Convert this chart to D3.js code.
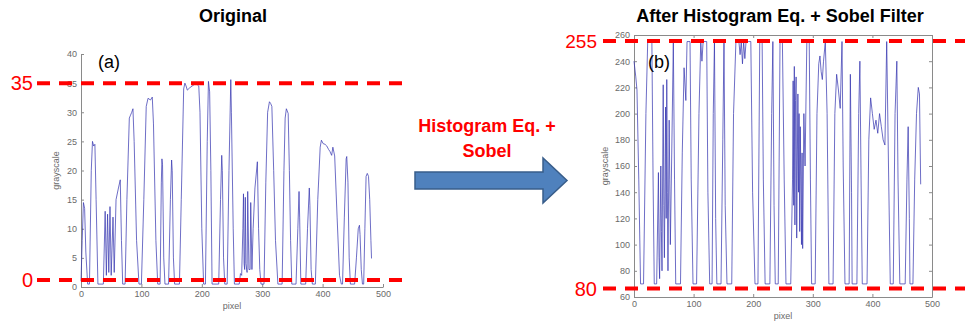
<!DOCTYPE html>
<html><head><meta charset="utf-8">
<script src="https://cdn.jsdelivr.net/npm/d3@7"></script>
<style>
body{margin:0;background:#fff;}
svg{display:block;}
</style></head>
<body>
<svg id="c" width="965" height="327"></svg>
<script>
// ---------- DATA ----------
// Left panel: original grayscale profile [pixel, grayscale]
const originalProfile = [
[0,1],[2,8],[4,14.5],[6,13.5],[8,6],[11,0.5],[14,0.5],[17,20],[19,25],[21,24.2],[23,24.5],[25,15],[28,0.5],[37,0.5],
[40,13],[42,2],[44,12.5],[46,2.5],[48,13.8],[50,2],[53,12],[55,2.5],[58,15],[62,17],[65,18.4],[67,8],[69,0.5],[73,0.5],
[76,15],[80,29],[82,29.5],[84,30],[86,30.6],[88,25],[92,8],[96,0.5],[100,0.5],
[104,15],[108,31],[111,32.4],[115,32.1],[118,32.6],[120,28],[124,8],[127,0.5],[131,0.5],
[133,18],[134,22],[135,21],[137,5],[139,0.5],[145,0.5],[148,15],[150,21.8],[151,20],[153,5],[155,0.5],[163,0.5],
[166,15],[170,34],[172,35],[174,34.5],[176,33.8],[180,34.2],[184,34.5],[188,34.8],[192,34.8],[195,34.5],[197,30],[200,10],[203,0.5],[206,0.5],
[209,25],[211,35.3],[213,33.5],[215,20],[217,0.5],[228,0.5],[231,15],[233,22.6],[234,20],[236,5],[238,0.5],[242,0.5],[245,20],[248,35.6],[249,30],[252,10],[254,0.5],[262,0.5],
[264,2.3],[266,2],[268,10],[269,16],[270,4],[271,3],[272,15.4],[273,4],[275,2.5],[276,16.4],[278,3],[280,3],[281,14.5],[283,3],[285,10],[288,17],[292,21.5],[294,10],[296,3],[298,0.5],[303,0.5],
[306,18],[309,30],[312,31.8],[314,31.5],[316,31],[319,20],[322,8],[326,0.5],[333,0.5],
[336,20],[338,29],[340,30.6],[343,29.8],[345,20],[347,8],[349,0.5],[356,0.5],[359,10],[361,16.4],[362,12],[364,0.5],[372,0.5],[375,10],[378,17],[379,14],[381,3],[383,0.5],[388,0.5],
[392,15],[396,24],[398,25.2],[401,24.6],[404,24.5],[407,24.2],[410,23.6],[412,23.3],[415,22.6],[417,24],[420,22.5],[424,12],[428,2],[431,0.5],[433,0.5],
[436,12],[439,22],[440,22.4],[442,18],[444,5],[446,0.5],[453,0.5],[456,5],[459,10],[461,10.6],[462,9],[464,3],[466,0.5],[468,0.5],
[470,10],[472,19],[474,19.5],[476,19],[478,15],[480,8],[481,4.9]
];
// Right panel: after histogram equalisation + Sobel filter [pixel, grayscale]
const filteredProfile = [
[0,240],[3,228],[5,218],[8,150],[11,70],[16,70],[20,200],[23,255],[30,255],[32,150],[34,70],[38,70],
[41,155],[42,90],[43,74],[45,160],[46,110],[47,80],[49,222],[50,130],[51,90],[53,205],[54,120],[55,226],[56,140],[57,80],[59,195],[60,150],[61,100],[63,160],[66,255],[68,150],[70,70],[78,70],
[81,170],[84,235],[87,210],[89,255],[94,255],[96,150],[99,70],[105,70],
[109,200],[112,255],[114,240],[116,255],[122,255],[124,140],[127,70],[131,70],
[133,200],[135,255],[137,120],[139,70],[146,70],
[149,180],[151,255],[153,130],[156,70],[164,70],
[167,200],[171,255],[176,255],[178,245],[180,255],[182,238],[184,255],[186,242],[188,255],[192,255],[196,255],[199,140],[203,70],[208,70],
[211,255],[215,255],[217,150],[220,70],[228,70],
[231,200],[233,255],[235,130],[237,70],[242,70],
[245,255],[249,255],[252,150],[255,70],[263,70],
[266,150],[267,225],[268,130],[269,236],[270,115],[271,210],[272,228],[273,105],[275,215],[276,140],[277,200],[278,110],[279,190],[280,150],[281,100],[282,170],[283,97],[285,200],[287,160],[290,255],[294,255],[296,150],[298,70],[304,70],
[307,200],[310,238],[312,244],[314,232],[316,226],[318,240],[321,255],[324,200],[327,70],[334,70],
[337,200],[340,230],[343,218],[346,204],[349,255],[351,160],[354,70],[361,70],
[363,230],[365,140],[366,70],[374,70],
[377,200],[379,240],[381,150],[383,70],[391,70],
[394,180],[397,212],[400,200],[403,188],[406,195],[409,185],[412,200],[415,190],[418,180],[421,176],[424,255],[427,160],[430,70],[435,70],
[438,200],[441,240],[443,150],[446,70],[455,70],
[458,150],[460,190],[462,120],[463,70],[468,70],
[471,150],[474,200],[477,220],[479,215],[481,146]
];
const xTicks = [0,100,200,300,400,500];
const leftYTicks = [0,5,10,15,20,25,30,35,40];
const rightYTicks = [60,80,100,120,140,160,180,200,220,240,260];
const leftRefLines = [{label:"35", value:35},{label:"0", value:1.2}];
const rightRefLines = [{label:"255", value:255.4},{label:"80", value:66.5}];
const titles = ["Original","After Histogram Eq. + Sobel Filter"];
const panelTags = ["(a)","(b)"];
const arrowText = ["Histogram Eq. +","Sobel"];

// ---------- DRAW ----------
const svg = d3.select("#c");
const axisColor = "#8a8a8a";
const lineColor = "#3535b0";
const font = "'Liberation Sans', Arial, sans-serif";

function styleAxis(g){
  g.select(".domain").attr("stroke",axisColor);
  g.selectAll(".tick line").attr("stroke",axisColor);
  g.selectAll(".tick text").attr("fill","#6a6a6a").style("font-family",font).style("font-size","9px");
}

function panel(opts){
  const x = d3.scaleLinear().domain([0,500]).range([opts.x0,opts.x1]);
  const y = d3.scaleLinear().domain(opts.yDomain).range([opts.y0,opts.y1]);
  const g = svg.append("g");
  if(opts.box){
    g.append("g").attr("transform",`translate(0,${opts.y1})`)
      .call(d3.axisTop(x).tickValues(xTicks).tickSize(-3).tickSizeOuter(0).tickFormat(""))
      .call(styleAxis);
    g.append("g").attr("transform",`translate(${opts.x1},0)`)
      .call(d3.axisRight(y).tickValues(opts.yTicks).tickSize(-3).tickSizeOuter(0).tickFormat(""))
      .call(styleAxis);
  }
  g.append("g").attr("transform",`translate(0,${opts.y0})`)
    .call(d3.axisBottom(x).tickValues(xTicks).tickSize(-3).tickSizeOuter(0).tickPadding(4))
    .call(styleAxis);
  g.append("g").attr("transform",`translate(${opts.x0},0)`)
    .call(d3.axisLeft(y).tickValues(opts.yTicks).tickSize(-3).tickSizeOuter(0).tickPadding(4))
    .call(styleAxis);
  g.append("text").attr("x",(opts.x0+opts.x1)/2).attr("y",opts.y0+opts.xlabOff)
    .attr("text-anchor","middle").attr("fill","#6a6a6a").style("font-family",font).style("font-size","9px").text("pixel");
  g.append("text").attr("transform",`translate(${opts.ylabX},${(opts.y0+opts.y1)/2}) rotate(-90)`)
    .attr("text-anchor","middle").attr("fill","#6a6a6a").style("font-family",font).style("font-size","9px").text("grayscale");
  const line = d3.line().x(d=>x(d[0])).y(d=>y(d[1]));
  g.append("path").datum(opts.data).attr("d",line).attr("fill","none")
    .attr("stroke",lineColor).attr("stroke-width",0.9).attr("stroke-opacity",0.8).attr("stroke-linejoin","round");
  g.append("text").attr("x",opts.tagX).attr("y",opts.tagY).attr("fill","#000")
    .style("font-family",font).style("font-size","18px").text(opts.tag);
  opts.refs.forEach((r,i)=>{
    const yy = y(r.value);
    g.append("line").attr("x1",opts.refX0).attr("x2",opts.refX1).attr("y1",yy).attr("y2",yy)
      .attr("stroke","#ff0000").attr("stroke-width",4).attr("stroke-dasharray","13,9");
    g.append("text").attr("x",opts.refLabelX).attr("y",yy).attr("dy","0.36em")
      .attr("text-anchor","end").attr("fill","#ff0000")
      .style("font-family",font).style("font-size",(r.label.length>2?"19px":"20px")).text(r.label);
  });
  svg.append("text").attr("x",opts.titleX).attr("y",22).attr("text-anchor","middle")
    .attr("fill","#000").style("font-family",font).style("font-weight","bold").style("font-size","18px").text(opts.title);
}

panel({x0:81,x1:383,y0:287,y1:54,yDomain:[0,40],yTicks:leftYTicks,data:originalProfile,box:false,
  xlabOff:22,ylabX:59,tag:panelTags[0],tagX:98,tagY:68,refs:leftRefLines,refX0:37,refX1:403,refLabelX:33,
  title:titles[0],titleX:233});
panel({x0:634,x1:932,y0:297,y1:35,yDomain:[60,260],yTicks:rightYTicks,data:filteredProfile,box:true,
  xlabOff:22,ylabX:608,tag:panelTags[1],tagX:648,tagY:68,refs:rightRefLines,refX0:603,refX1:965,refLabelX:597,
  title:titles[1],titleX:780});

const ag = svg.append("g");
const arrowPts = [[415,172],[543,172],[543,158],[567,180.5],[543,203],[543,189],[415,189]];
ag.append("path").attr("d", d3.line()(arrowPts)+"Z").attr("fill","#4f81bd").attr("stroke","#385d8a").attr("stroke-width",1.5);
arrowText.forEach((t,i)=>{
  ag.append("text").attr("x",487).attr("y",132+i*25).attr("text-anchor","middle").attr("fill","#ff0000")
    .style("font-family",font).style("font-weight","bold").style("font-size","18px").text(t);
});
</script>
</body></html>
